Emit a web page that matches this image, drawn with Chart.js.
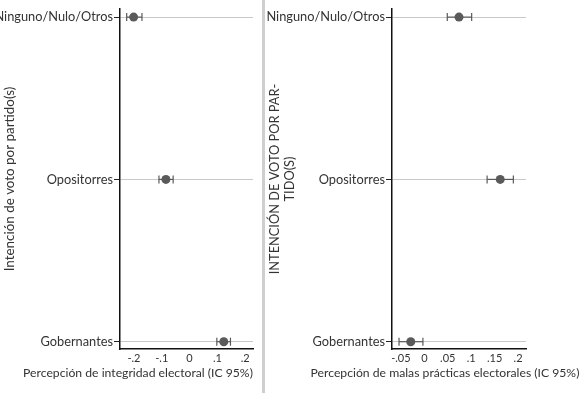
<!DOCTYPE html>
<html>
<head>
<meta charset="utf-8">
<script src="https://cdn.jsdelivr.net/npm/chart.js@4/dist/chart.umd.min.js"></script>
<style>
  body { margin: 0; background: #fff; width: 584px; height: 393px; overflow: hidden; }
  .panel { position: absolute; top: 0; height: 393px; }
  #sep { position: absolute; left: 262px; top: 0; width: 3px; height: 393px; background: #cfcfcf; }
</style>
</head>
<body>
<div class="panel" style="left:0;width:262px"><canvas id="left"></canvas></div>
<div id="sep"></div>
<div class="panel" style="left:265px;width:319px"><canvas id="right"></canvas></div>
<script>
// categories, top to bottom
const categories = ["Ninguno/Nulo/Otros", "Opositorres", "Gobernantes"];

// left panel: integridad electoral
const integEst = [-0.201, -0.085, 0.123];
const integLo  = [-0.226, -0.110, 0.098];
const integHi  = [-0.171, -0.059, 0.147];
const integTicks  = [-0.2, -0.1, 0, 0.1, 0.2];
const integLabels = ["-.2", "-.1", "0", ".1", ".2"];

// right panel: malas prácticas
const malasEst = [0.074, 0.162, -0.029];
const malasLo  = [0.049, 0.134, -0.054];
const malasHi  = [0.101, 0.190, -0.003];
const malasTicks  = [-0.05, 0, 0.05, 0.1, 0.15, 0.2];
const malasLabels = ["-.05", "0", ".05", ".1", ".15", ".2"];

const FONT = "Lato, sans-serif";
const INK = "#333";
const MARK = "#5a5a5a";

// x-axis title is wider than the plot area, so draw it ourselves
const xTitlePlugin = {
    id: "xTitle",
    afterDraw(chart, args, o) {
        const ctx = chart.ctx;
        ctx.save();
        ctx.font = "12.2px " + FONT;
        ctx.fillStyle = INK;
        ctx.textAlign = "center";
        ctx.textBaseline = "middle";
        ctx.fillText(o.text, o.x, o.y);
        ctx.restore();
    }
};

function makePanel(id, opt) {
    const datasets = [{
        type: "scatter",
        data: opt.est.map((v, i) => ({ x: v, y: i })),
        pointRadius: 4.5,
        pointBackgroundColor: MARK,
        pointBorderColor: MARK,
        pointBorderWidth: 0
    }];
    opt.est.forEach((v, i) => {
        datasets.push({
            type: "line",
            data: [{ x: opt.lo[i], y: i }, { x: opt.hi[i], y: i }],
            borderColor: MARK,
            borderWidth: 1.2,
            pointStyle: "line",
            pointRotation: 90,
            pointRadius: 4,
            pointBorderColor: MARK,
            pointBorderWidth: 1.2
        });
    });

    return new Chart(document.getElementById(id), {
        type: "scatter",
        data: { datasets },
        plugins: [xTitlePlugin],
        options: {
            responsive: true,
            maintainAspectRatio: false,
            animation: false,
            layout: { padding: { top: 9, right: opt.padRight, left: 0, bottom: 0 } },
            plugins: {
                legend: { display: false },
                tooltip: { enabled: false },
                xTitle: { text: opt.xtitle, x: opt.titleX, y: 373 }
            },
            scales: {
                x: {
                    type: "linear",
                    min: opt.xmin,
                    max: opt.xmax,
                    afterBuildTicks: (s) => { s.ticks = opt.ticks.map(v => ({ value: v })); },
                    afterFit: (s) => { s.height = 44; },
                    grid: { display: false, drawTicks: false },
                    border: { display: true, color: "#111", width: 1.5 },
                    ticks: {
                        padding: 3,
                        color: INK,
                        font: { family: FONT, size: 11 },
                        callback: (v, i) => opt.labels[i]
                    }
                },
                y: {
                    type: "linear",
                    reverse: true,
                    min: -0.05,
                    max: 2.045,
                    afterBuildTicks: (s) => { s.ticks = categories.map((c, i) => ({ value: i })); },
                    afterFit: (s) => { s.width = opt.yWidth; },
                    grid: { display: true, color: "#c8c8c8", lineWidth: 1, tickColor: "#222", tickLength: 6 },
                    border: { display: true, color: "#111", width: 1.5 },
                    ticks: {
                        padding: 1,
                        color: INK,
                        font: { family: FONT, size: 12.8 },
                        callback: (v, i) => categories[i]
                    },
                    title: {
                        display: true,
                        text: opt.ytitle,
                        color: INK,
                        padding: { top: 2, bottom: 0 },
                        font: { family: FONT, size: opt.ytitleSize }
                    }
                }
            }
        }
    });
}

makePanel("left", {
    est: integEst, lo: integLo, hi: integHi,
    ticks: integTicks, labels: integLabels,
    xmin: -0.25, xmax: 0.228,
    padRight: 9, yWidth: 120, titleX: 138, ytitleSize: 13.4,
    xtitle: "Percepción de integridad electoral (IC 95%)",
    ytitle: "Intención de voto por partido(s)"
});

makePanel("right", {
    est: malasEst, lo: malasLo, hi: malasHi,
    ticks: malasTicks, labels: malasLabels,
    xmin: -0.069, xmax: 0.217,
    padRight: 58, yWidth: 127, titleX: 180, ytitleSize: 12.8,
    xtitle: "Percepción de malas prácticas electorales (IC 95%)",
    ytitle: ["INTENCIÓN DE VOTO POR PAR-", "TIDO(S)"]
});
</script>
</body>
</html>
